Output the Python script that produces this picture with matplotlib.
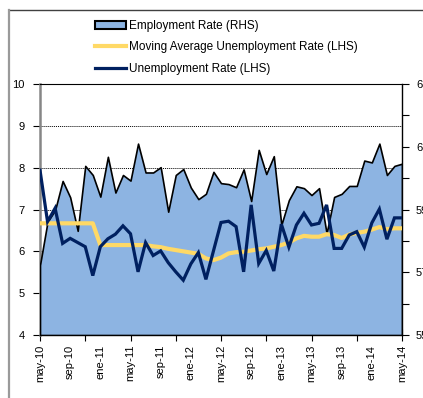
import matplotlib
matplotlib.use("Agg")
import matplotlib.pyplot as plt
from matplotlib.patches import Patch
from matplotlib.lines import Line2D
import numpy as np

plt.rcParams['font.family'] = ['Liberation Sans', 'DejaVu Sans']

# Monthly data, may-10 .. may-14 (49 months)
employment_rate = [57.23, 58.61, 58.98, 59.91, 59.39, 58.32, 60.39, 60.10, 59.41, 60.68,
                   59.54, 60.10, 59.92, 61.10, 60.18, 60.18, 60.35, 58.93, 60.10, 60.29,
                   59.70, 59.33, 59.50, 60.20, 59.84, 59.81, 59.71, 60.28, 59.27, 60.90,
                   60.13, 60.70, 58.51, 59.30, 59.74, 59.68, 59.46, 59.68, 58.24, 59.40,
                   59.50, 59.75, 59.75, 60.56, 60.50, 61.10, 60.10, 60.39, 60.46]
unemployment_rate = [7.94, 6.71, 7.03, 6.19, 6.31, 6.21, 6.11, 5.42, 6.11, 6.30,
                     6.41, 6.61, 6.42, 5.51, 6.21, 5.90, 6.01, 5.73, 5.51, 5.31,
                     5.70, 5.97, 5.33, 6.01, 6.69, 6.72, 6.59, 5.51, 7.11, 5.71,
                     6.02, 5.53, 6.65, 6.10, 6.63, 6.91, 6.63, 6.67, 7.11, 6.07,
                     6.07, 6.39, 6.47, 6.10, 6.68, 7.01, 6.29, 6.80, 6.80]
moving_avg_unemployment = [6.67, 6.67, 6.67, 6.67, 6.67, 6.67, 6.67, 6.67, 6.15, 6.15,
                           6.15, 6.15, 6.15, 6.15, 6.15, 6.12, 6.10, 6.06, 6.03, 6.00,
                           5.97, 5.94, 5.83, 5.79, 5.85, 5.95, 5.98, 5.99, 6.02, 6.05,
                           6.07, 6.11, 6.15, 6.21, 6.31, 6.37, 6.35, 6.35, 6.41, 6.39,
                           6.32, 6.40, 6.44, 6.47, 6.52, 6.58, 6.53, 6.55, 6.55]
x_labels = ['may-10', 'sep-10', 'ene-11', 'may-11', 'sep-11', 'ene-12', 'may-12',
            'sep-12', 'ene-13', 'may-13', 'sep-13', 'ene-14', 'may-14']
left_ticks = [4, 5, 6, 7, 8, 9, 10]
right_ticks = [55, 57, 59, 61, 63]

W, H = 423, 398
fig = plt.figure(figsize=(W / 100, H / 100), dpi=100)
x = np.arange(len(employment_rate))

# chart border
fig.add_artist(Line2D([9 / W, 1], [1 - 9.5 / H, 1 - 9.5 / H], color='#404040', lw=1.0))
fig.add_artist(Line2D([9 / W, 9 / W], [0, 1 - 9.5 / H], color='#9a9a9a', lw=1.6))

pos = [40 / W, 1 - 335 / H, 362 / W, 251 / H]
ax = fig.add_axes(pos)
ax.set_xlim(0, len(x) - 1)
ax.set_ylim(4, 10)
ax.set_yticks(left_ticks)
ax.grid(axis='y', linestyle=(0, (1, 1)), color='black', linewidth=0.7)
ax.set_axisbelow(True)

ax2 = ax.twinx()
ax2.set_ylim(55, 63)
ax2.set_yticks(right_ticks)
ax2.set_yticks(range(55, 64), minor=True)
ax2.fill_between(x, 55, employment_rate, facecolor='#8DB4E2', edgecolor='black', linewidth=1.2, zorder=2)

ax3 = fig.add_axes(pos, sharex=ax, sharey=ax)
ax3.patch.set_visible(False)
ax3.axis('off')
ax3.plot(x, moving_avg_unemployment, color='#FFD966', lw=3.0, solid_capstyle='butt')
ax3.plot(x, unemployment_rate, color='#002060', lw=2.3, solid_joinstyle='miter')

# spines
for a in (ax, ax2):
    for s in a.spines.values():
        s.set_visible(False)
ax.spines['left'].set_visible(True)
ax.spines['left'].set_color('#868686')
ax.spines['left'].set_linewidth(1.8)
ax.spines['bottom'].set_visible(True)
ax.spines['bottom'].set_color('black')
ax.spines['bottom'].set_linewidth(1.0)
ax.spines['top'].set_visible(True)
ax.spines['top'].set_color('black')
ax.spines['top'].set_linewidth(0.8)
ax2.spines['right'].set_visible(True)
ax2.spines['right'].set_color('black')
ax2.spines['right'].set_linewidth(1.0)

ax.tick_params(axis='y', length=5, width=0.8, pad=6, labelsize=8, color='black')
ax2.tick_params(axis='y', which='major', length=5, width=0.8, pad=5, labelsize=8)
ax2.tick_params(axis='y', which='minor', length=5, width=0.8)

ax.xaxis.remove_overlapping_locs = False
ax.set_xticks(range(0, len(x), 4))
ax.set_xticklabels(x_labels, rotation=90, fontsize=8)
ax.set_xticks(range(0, len(x), 6), minor=True)
ax.tick_params(axis='x', which='minor', direction='inout', length=8, width=0.8)
ax.tick_params(axis='x', which='major', length=0, pad=7)

handles = [Patch(facecolor='#8DB4E2', edgecolor='black', linewidth=1.5),
           Line2D([], [], color='#FFD966', lw=3.0),
           Line2D([], [], color='#002060', lw=2.3)]
labels = ['Employment Rate (RHS)', 'Moving Average Unemployment Rate (LHS)', 'Unemployment Rate (LHS)']
fig.legend(handles, labels, loc='upper left', bbox_to_anchor=(95 / W, 1 - 20 / H),
           frameon=False, fontsize=8.5, handlelength=2.6, handletextpad=0.3,
           labelspacing=0.8, borderpad=0, borderaxespad=0)

fig.savefig('out.png', dpi=100)
